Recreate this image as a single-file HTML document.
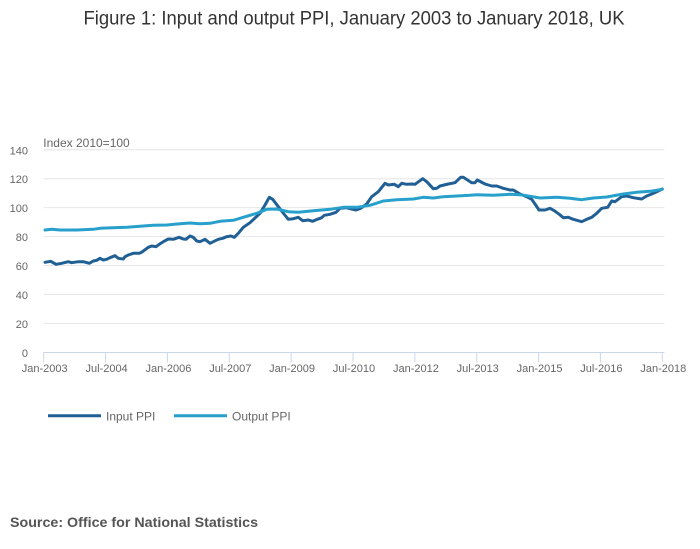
<!DOCTYPE html>
<html>
<head>
<meta charset="utf-8">
<style>
  html,body{margin:0;padding:0;background:#fff;}
  svg{display:block;}
  text{font-family:"Liberation Sans", sans-serif;}
</style>
</head>
<body>
<svg width="700" height="549" viewBox="0 0 700 549" xmlns="http://www.w3.org/2000/svg">
  <rect x="0" y="0" width="700" height="549" fill="#ffffff"/>
  <!-- Title -->
  <text x="83.5" y="24.5" font-size="19" fill="#333333" textLength="541" lengthAdjust="spacingAndGlyphs">Figure 1: Input and output PPI, January 2003 to January 2018, UK</text>

  <!-- gridlines -->
  <g stroke="#e6e6e6" stroke-width="1">
    <line x1="43.5" y1="323.4" x2="664.5" y2="323.4"/>
    <line x1="43.5" y1="294.4" x2="664.5" y2="294.4"/>
    <line x1="43.5" y1="265.5" x2="664.5" y2="265.5"/>
    <line x1="43.5" y1="236.6" x2="664.5" y2="236.6"/>
    <line x1="43.5" y1="207.6" x2="664.5" y2="207.6"/>
    <line x1="43.5" y1="178.7" x2="664.5" y2="178.7"/>
    <line x1="43.5" y1="149.8" x2="664.5" y2="149.8"/>
  </g>

  <!-- y axis title -->
  <text x="43.3" y="147" font-size="12" fill="#666666">Index 2010=100</text>

  <!-- y labels -->
  <g font-size="11" fill="#666666" text-anchor="end">
    <text x="28" y="356.8">0</text>
    <text x="28" y="327.9">20</text>
    <text x="28" y="298.9">40</text>
    <text x="28" y="270">60</text>
    <text x="28" y="241.1">80</text>
    <text x="28" y="212.1">100</text>
    <text x="28" y="183.2">120</text>
    <text x="28" y="154.3">140</text>
  </g>

  <!-- x axis -->
  <line x1="43.5" y1="352.5" x2="664.5" y2="352.5" stroke="#ccd6eb" stroke-width="1"/>
  <g stroke="#ccd6eb" stroke-width="1">
    <line x1="43.7" y1="352.5" x2="43.7" y2="362.5"/>
    <line x1="105.6" y1="352.5" x2="105.6" y2="362.5"/>
    <line x1="167.4" y1="352.5" x2="167.4" y2="362.5"/>
    <line x1="229.3" y1="352.5" x2="229.3" y2="362.5"/>
    <line x1="291.1" y1="352.5" x2="291.1" y2="362.5"/>
    <line x1="353" y1="352.5" x2="353" y2="362.5"/>
    <line x1="414.9" y1="352.5" x2="414.9" y2="362.5"/>
    <line x1="476.7" y1="352.5" x2="476.7" y2="362.5"/>
    <line x1="538.6" y1="352.5" x2="538.6" y2="362.5"/>
    <line x1="600.4" y1="352.5" x2="600.4" y2="362.5"/>
    <line x1="662.3" y1="352.5" x2="662.3" y2="362.5"/>
  </g>
  <g font-size="11" fill="#666666" text-anchor="middle">
    <text x="44.7" y="372">Jan-2003</text>
    <text x="106.6" y="372">Jul-2004</text>
    <text x="168.4" y="372">Jan-2006</text>
    <text x="230.3" y="372">Jul-2007</text>
    <text x="292.1" y="372">Jan-2009</text>
    <text x="354" y="372">Jul-2010</text>
    <text x="415.9" y="372">Jan-2012</text>
    <text x="477.7" y="372">Jul-2013</text>
    <text x="539.6" y="372">Jan-2015</text>
    <text x="601.4" y="372">Jul-2016</text>
    <text x="663.3" y="372">Jan-2018</text>
  </g>

  <!-- Input PPI -->
  <polyline fill="none" stroke="#206095" stroke-width="3" stroke-linejoin="round" stroke-linecap="round"
    points="45,262.3 50.7,261.3 56,264.3 61.7,263.3 68.3,261.7 71.7,262.7 78.3,261.7 83.3,261.7 89.3,263.3 93.3,261 96.7,260.3 100,258.3 103.3,260 106.7,259.3 110,257.7 115,255.7 118.3,258.3 123.3,259 125,256.7 128.3,255 133.3,253.3 139.3,253.3 142,252 148.3,247.3 151.7,246 156,246.7 159.3,244.3 163.3,241.7 168.3,239 173.3,239.3 179,237.3 183.3,239 186,239.3 190,236 193.3,237.3 196.7,241 200,241.7 205,239.3 210,243.3 213.3,241.7 218.3,239.3 222.7,238.3 226.7,236.7 231,236 234.3,237.3 238.3,233.3 243.3,227.3 250,222.7 260,213.3 265,205 269.3,197.3 272.7,199.3 278.3,206.7 284,214 288.3,219.3 293.3,218.7 298.3,217.3 302.7,220.7 308.3,220 312.7,221.3 317.3,219.3 321.7,217.7 324.3,215.3 330,214.3 336,212.3 340,208.3 346,207.7 351.7,209 356,210 360.7,208.3 366.7,204 371.7,196.7 378.3,191.7 385,183.3 388.3,185 394.3,184.3 398.3,186.7 401.7,183.3 406.7,184.3 411.7,184 415,184.3 422.7,178.7 426.7,181.7 433.3,188.7 436.7,188.3 440,186 448.3,184 455,182.7 460.7,177.3 463.3,177.3 471.7,182.7 475,182.7 477.3,180 485,184 491.7,186 496.7,186 503.3,188.3 510,190 513.3,190 520,194 526.7,196.7 531.7,199.3 535,204 539,210 545,210 550,208.3 554.3,210.7 559.3,214.3 563.3,217.7 568.3,217.3 573.3,219.3 578.3,220.7 581.7,221.7 586.7,219.3 591.7,217.3 596.7,213.3 601.7,208.3 607.7,207.3 611.7,201 615,201.7 621.7,196.7 626.7,196 633.3,197.7 641.7,199 646.7,196 651.7,194 656.7,191.7 662.3,189"/>

  <!-- Output PPI -->
  <polyline fill="none" stroke="#27a0cc" stroke-width="3" stroke-linejoin="round" stroke-linecap="round"
    points="45,230 51.7,229.3 60,230 76.7,230 93.3,229.3 100,228.3 113.3,227.7 126.7,227.3 140,226.3 153.3,225.3 166.7,225 180,223.7 190,223 200,223.7 210,223.3 220,221.3 233.3,220.3 243.3,217.3 256.7,213.3 266.7,209.3 276.7,209 288.3,211.7 298.3,212.3 313.3,210.7 330,209.3 343.3,207.3 356.7,207.3 370,205.3 383.3,201 396.7,199.7 413.3,199 423.3,197.3 433.3,198 443.3,196.7 456.7,196 470,195.3 476.7,194.7 493.3,195.3 510,194.3 520,194.7 526.7,195.7 540,198 556.7,197.3 570,198.3 581.7,199.7 593.3,198 606.7,197 623.3,194 636.7,192.3 650,191.3 662.3,189.3"/>

  <!-- Legend -->
  <line x1="48" y1="415.7" x2="101" y2="415.7" stroke="#206095" stroke-width="3"/>
  <text x="106" y="420.5" font-size="12" fill="#666666">Input PPI</text>
  <line x1="174" y1="415.7" x2="227" y2="415.7" stroke="#27a0cc" stroke-width="3"/>
  <text x="232" y="420.5" font-size="12" fill="#666666">Output PPI</text>

  <!-- Source -->
  <text x="10" y="527" font-size="14" font-weight="bold" fill="#555555" textLength="248" lengthAdjust="spacingAndGlyphs">Source: Office for National Statistics</text>
</svg>
</body>
</html>
